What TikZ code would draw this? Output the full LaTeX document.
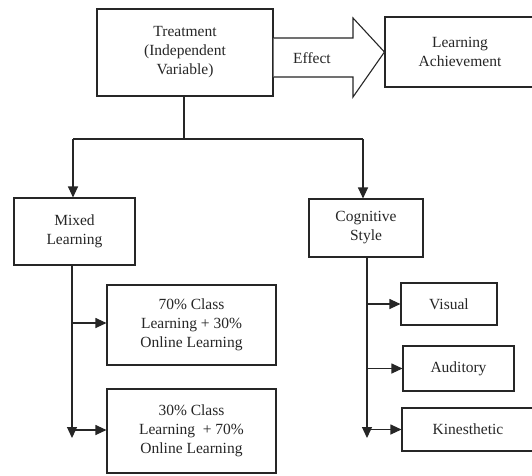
\documentclass[tikz,border=0pt]{standalone}
\usepackage{fontspec}
\setmainfont{Liberation Serif}
\usetikzlibrary{arrows.meta}
\begin{document}
\begin{tikzpicture}[x=1pt,y=-1pt,
  box/.style={draw=black!85,line width=1.1pt,align=center,inner sep=2pt,
    font=\fontsize{15.5}{19}\selectfont,text=black!85},
  conn/.style={draw=black!85,line width=1.1pt},
  arr/.style={conn,-{Triangle[length=11pt,width=10pt]}}]
\clip (0,0) rectangle (532,475);
\fill[white] (0,0) rectangle (532,475);
% nodes
\node[box,minimum width=176pt,minimum height=87pt] (T) at (185,52.5) {Treatment\\(Independent\\Variable)};
\node[box,minimum width=150pt,minimum height=70pt] (LA) at (460,52) {Learning\\Achievement};
\node[box,minimum width=121pt,minimum height=67pt] (ML) at (74.5,231.5) {Mixed\\Learning};
\node[box,minimum width=114pt,minimum height=58pt] (CS) at (366,228) {Cognitive\\Style};
\node[box,minimum width=169pt,minimum height=80pt] (B1) at (191.5,325) {70\% Class\\Learning + 30\%\\Online Learning};
\node[box,minimum width=169pt,minimum height=84pt] (B2) at (191.5,431) {30\% Class\\Learning\ \ + 70\%\\Online Learning};
\node[box,minimum width=96pt,minimum height=42pt] (V) at (449,304) {Visual};
\node[box,minimum width=111pt,minimum height=45pt] (A) at (458.5,368.5) {Auditory};
\node[box,minimum width=132pt,minimum height=43pt] (K) at (468,429.5) {Kinesthetic};
% effect arrow
\draw[conn,fill=white,line join=miter] (T.east |- 0,38) -- (353,38) -- (353,18) -- (LA.west) -- (353,97) -- (353,77) -- (T.east |- 0,77);
\node[box,draw=none] (E) at (312,58) {Effect};
% tree connectors
\coordinate (J) at (184,139);
\coordinate (JL) at (73,139);
\coordinate (JR) at (363,139);
\draw[conn] (T.south -| J) -- (J);
\draw[conn] (JL) -- (JR);
\draw[arr] (JL) -- (JL |- ML.north);
\draw[arr] (JR) -- (JR |- CS.north);
% mixed learning branch
\coordinate (MT) at (72,265);
\coordinate (MB) at (72,438);
\draw[arr] (MT) -- (MB);
\draw[arr] (MT |- 0,323) -- (B1.west |- 0,323);
\draw[arr] (MT |- 0,430) -- (B2.west |- 0,430);
% cognitive style branch
\coordinate (CT) at (367,257);
\coordinate (CB) at (367,438);
\draw[arr] (CT) -- (CB);
\draw[arr] (CT |- V.west) -- (V.west);
\draw[arr] (CT |- A.west) -- (A.west);
\draw[arr] (CT |- K.west) -- (K.west);
\end{tikzpicture}
\end{document}
